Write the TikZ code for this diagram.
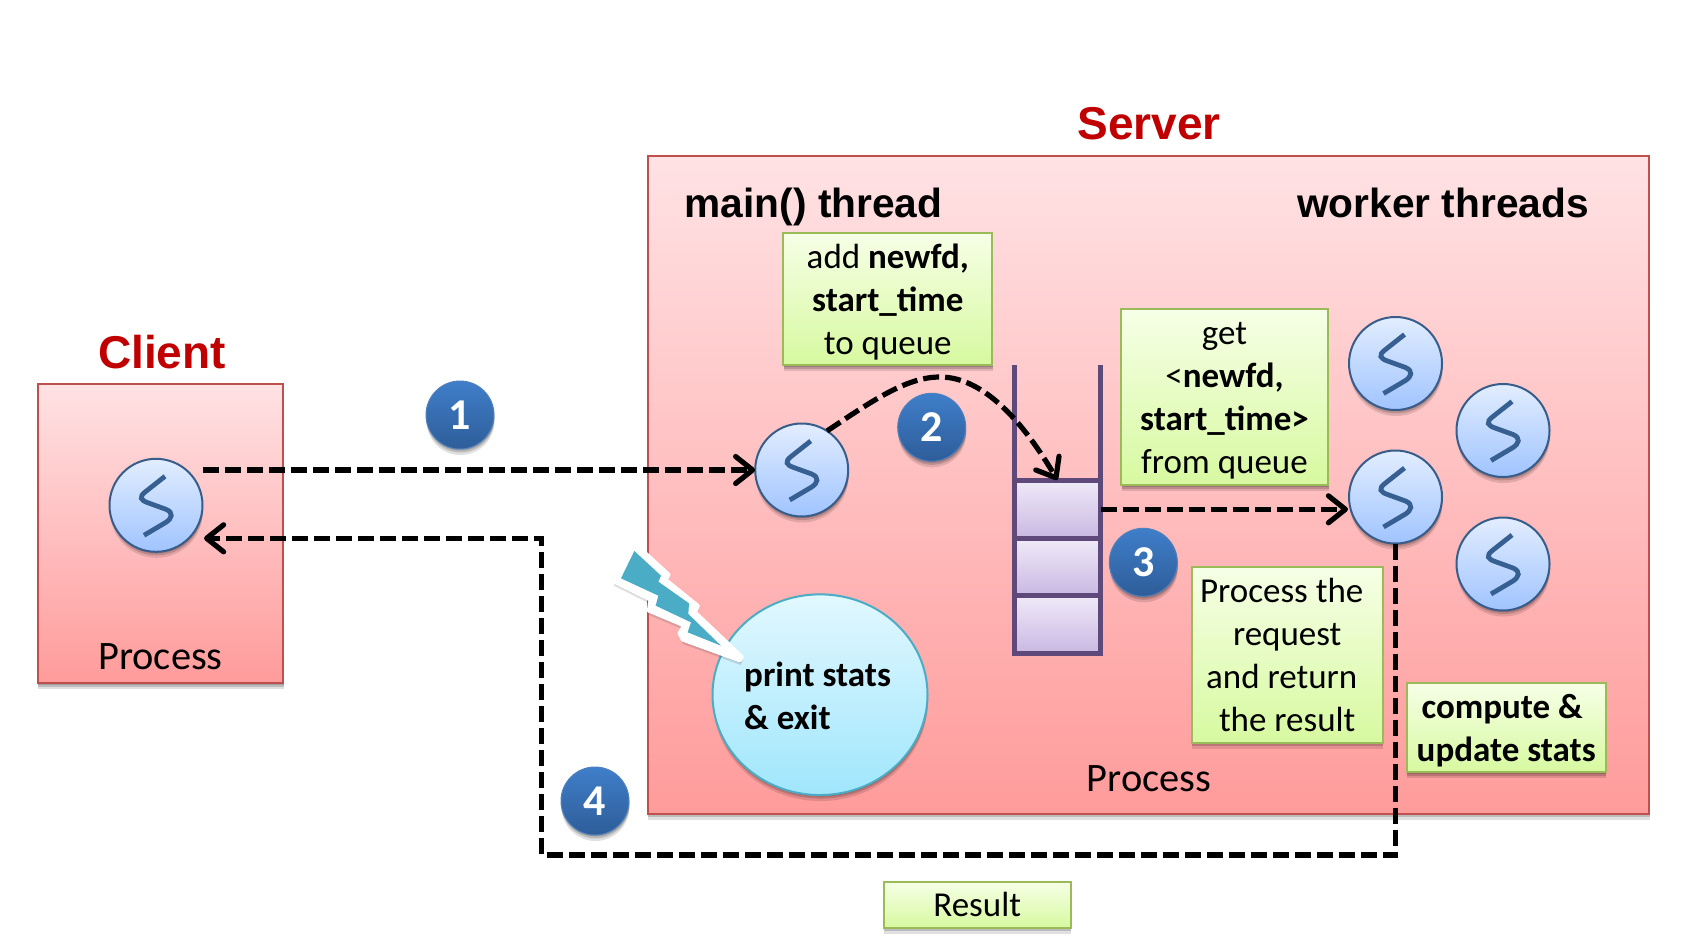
\documentclass[tikz,border=0pt]{standalone}
\usepackage{fontspec}
\setmainfont{Carlito}
\newfontfamily\arialfont{Liberation Sans}
\usetikzlibrary{arrows.meta,shadows,shapes.geometric}
\definecolor{redtitle}{HTML}{C00000}
\definecolor{boxline}{HTML}{C0504D}
\definecolor{greenline}{HTML}{9BBB59}
\definecolor{threadline}{HTML}{385D8A}
\definecolor{glyphblue}{HTML}{376092}
\definecolor{queueline}{HTML}{5F497A}
\newcommand{\firstline}{\rule{0pt}{30pt}}
\newcommand{\badgetext}[1]{\raisebox{-1.5pt}{#1}}
\tikzset{
  softsh/.style={drop shadow={shadow xshift=.5pt,shadow yshift=-1.5pt,opacity=.16,fill=black},
                 drop shadow={shadow xshift=.5pt,shadow yshift=-3.5pt,opacity=.16,fill=black},
                 drop shadow={shadow xshift=.5pt,shadow yshift=-6pt,opacity=.12,fill=black}},
  procbox/.style={rectangle,draw=boxline,line width=2pt,
     top color={rgb,255:red,255;green,226;blue,228},bottom color={rgb,255:red,255;green,155;blue,155},
     inner sep=0pt,outer sep=0pt,softsh},
  greenbox/.style={rectangle,draw=greenline,line width=2pt,
     top color={rgb,255:red,246;green,255;blue,230},bottom color={rgb,255:red,215;green,249;blue,160},
     inner sep=0pt,outer sep=0pt,softsh,font=\fontsize{35}{43}\selectfont,align=center},
  thread/.style={circle,draw=threadline,line width=2pt,minimum size=93pt,inner sep=0pt,outer sep=0pt,
     top color={rgb,255:red,226;green,237;blue,255},bottom color={rgb,255:red,160;green,196;blue,255},softsh},
  badge/.style={circle,draw={rgb,255:red,79;green,129;blue,189},line width=1pt,minimum size=68pt,inner sep=0pt,
     top color={rgb,255:red,63;green,126;blue,201},bottom color={rgb,255:red,46;green,93;blue,153},
     text=white,font=\fontsize{44}{44}\selectfont\bfseries,softsh},
  qcell/.style={rectangle,draw=queueline,line width=5pt,minimum width=86pt,inner sep=0pt,outer sep=0pt,
     top color={rgb,255:red,240;green,234;blue,248},bottom color={rgb,255:red,201;green,184;blue,226}},
  rail/.style={draw=queueline,line width=5pt},
  flow/.style={draw=black,line width=5.2pt,dash pattern=on 16pt off 6pt,
     -{Straight Barb[length=17pt,width=27pt,line width=5.2pt,round]}},
  title/.style={text=redtitle,font=\fontsize{46}{46}\selectfont\arialfont\bfseries,anchor=base,inner sep=0pt},
  head/.style={text=black,font=\fontsize{40.7}{41}\selectfont\arialfont\bfseries,anchor=base west,inner sep=0pt},
  proclabel/.style={font=\fontsize{40.4}{41}\selectfont,anchor=base,inner sep=0pt},
  sglyph/.pic={\draw[draw=glyphblue,line width=4.8pt]
     (9,-29) -- (-10,-14) .. controls (-18,-8) and (-15,-5) .. (-8,-2.5) -- (10,4)
     .. controls (18,7.5) and (16,13) .. (10,17) -- (-12,30);}
}
\begin{document}
\begin{tikzpicture}[x=1pt,y=-1pt]
\useasboundingbox (0,0) rectangle (1685,950);
% boxes
\node[procbox,minimum width=1001.3pt,minimum height=657.5pt] (server) at (1148.35,484.75) {};
\node[procbox,minimum width=245.5pt,minimum height=299pt] (client) at (160.25,533.5) {};
% titles
\node[title] (clienttitle) at (162,368.7) {Client};
\node[title] (servertitle) at (1149,139) {Server};
\node[head] (mainhead) at (684.5,217.7) {main() thread};
\node[head] (workerhead) at (1297,217.7) {worker threads};
\node[proclabel] (clientproc) at (160.5,669) {Process};
\node[proclabel] (serverproc) at (1149,791) {Process};
% ellipse
\node[ellipse,draw={rgb,255:red,75;green,172;blue,198},line width=2pt,inner sep=0pt,outer sep=0pt,
      minimum width=215pt,minimum height=200.7pt,
      top color={rgb,255:red,226;green,248;blue,255},bottom color={rgb,255:red,160;green,230;blue,252},softsh]
      (stats) at (820,694.7) {};
\node[anchor=base west,inner sep=0pt,font=\fontsize{35}{43}\selectfont\bfseries] (statstext1) at (744,686.5) {print stats};
\node[anchor=base west,inner sep=0pt,font=\fontsize{35}{43}\selectfont\bfseries] (statstext2) at (744,729) {\& exit};
% lightning
\begin{scope}[shift={(605pt,-535pt)},x=.33333pt,y=-.33333pt]
\path[fill=white,draw=white,line width=3pt,line join=round,
      drop shadow={shadow xshift=.5pt,shadow yshift=-2pt,opacity=.22,fill=black},
      drop shadow={shadow xshift=.5pt,shadow yshift=-4pt,opacity=.12,fill=black}]
  (85,20) -- (192,118) -- (185,135) -- (280,212) -- (272,232) -- (412,365) -- (405,378)
  -- (232,315) -- (222,295) -- (235,272) -- (130,228) -- (135,195) -- (25,140) -- cycle;
\fill[fill={rgb,255:red,75;green,172;blue,198}]
  (88,48) -- (168,122) -- (160,140) -- (252,205) -- (250,237) -- (348,332) -- (248,292)
  -- (258,262) -- (152,212) -- (160,182) -- (48,130) -- cycle;
\end{scope}
% green boxes
\node[greenbox,minimum width=209pt,minimum height=132.3pt] (addbox) at (887.8,298.85)
  {\firstline add \textbf{newfd,}\\\textbf{start\_time}\\to queue};
\node[greenbox,minimum width=207pt,minimum height=175.7pt] (getbox) at (1224.5,397.15)
  {\firstline get\\<\textbf{newfd,}\\\textbf{start\_time>}\\from queue};
\node[greenbox,minimum width=191pt,minimum height=176pt] (procbox3) at (1287.2,654.7)
  {\mbox{Process the\hspace*{11pt}}\\request\\\mbox{and return\hspace*{11pt}}\\the result};
\node[greenbox,minimum width=187pt,minimum height=46pt] (resultbox) at (977.2,904.6) {Result};
% queue
\node[qcell,minimum height=58pt] (q1) at (1057.3,509) {};
\node[qcell,minimum height=57.7pt] (q2) at (1057.3,566.85) {};
\node[qcell,minimum height=57.6pt] (q3) at (1057.3,624.5) {};
\coordinate (railL) at (1014.3,365);
\coordinate (railR) at (1100.3,365);
\draw[rail] (railL) -- (q1.north west);
\draw[rail] (railR) -- (q1.north east);
% threads
\node[thread] (cthread) at (156,505.3) {};
\node[thread] (mainthread) at (801.7,470) {};
\node[thread] (w1) at (1395.5,363.5) {};
\node[thread] (w2) at (1503,430.5) {};
\node[thread] (w3) at (1395.5,497) {};
\node[thread] (w4) at (1503,564) {};
\foreach \t in {cthread,mainthread,w1,w2,w3,w4} \pic at (\t) {sglyph};
% connectors
\coordinate (sendstart) at (203,470);
\coordinate (retend) at (204,538.3);
\coordinate (retup) at (541.8,538.3);
\coordinate (retlow) at (541.8,855);
\coordinate (retright) at (1395.5,855);
\coordinate (curvetop) at (940,377);
\coordinate (qout) at (1100.5,509.3);
\coordinate (win) at (1348,509.3);
\draw[flow] (sendstart) -- (mainthread.west);
\draw[flow] (w3.south) -- (retright) -- (retlow) -- (retup) -- (retend);
\draw[flow] (mainthread.57) .. controls (876,398) and (908,377) .. (curvetop)
   .. controls (985,377) and (1025,425) .. (q1.north);
\draw[flow] (qout) -- (win);
% compute box over the flow
\node[greenbox,font=\fontsize{35}{43}\selectfont\bfseries,minimum width=199pt,minimum height=89pt] (statsbox) at (1506.2,727.8)
  {\firstline compute \&\hspace*{8pt}\\update stats};
% badges
\node[badge] (b1) at (460,415) {\badgetext{1}};
\node[badge] (b2) at (931.7,427.3) {\badgetext{2}};
\node[badge] (b3) at (1143.3,562.3) {\badgetext{3}};
\node[badge] (b4) at (595,801) {\badgetext{4}};
\end{tikzpicture}
\end{document}
